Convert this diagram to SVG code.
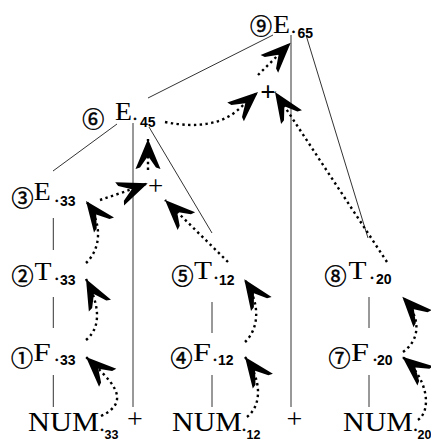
<svg xmlns="http://www.w3.org/2000/svg" width="431" height="441" viewBox="0 0 431 441">
<style>
.ln{stroke:#333;stroke-width:1;fill:none}
.dt{stroke:#000;stroke-width:2.4;fill:none;stroke-dasharray:2.4 3.4;marker-end:url(#ah)}
.circ{font-family:"Noto Sans CJK JP","DejaVu Sans",sans-serif;font-size:22px;text-anchor:middle;dominant-baseline:central;stroke:#000;stroke-width:0.5}
.big{font-family:"Liberation Serif",serif;font-size:26px}
.num{font-family:"Liberation Serif",serif;font-size:27px}
.dot{font-family:"Liberation Serif",serif;font-size:18px;stroke:#000;stroke-width:0.4}
.sub{font-family:"Liberation Sans",sans-serif;font-weight:bold;font-size:14px}
.nsub{font-family:"Liberation Sans",sans-serif;font-weight:bold;font-size:12.5px}
.pl{font-family:"Liberation Serif",serif;font-size:27px;text-anchor:middle}
.bp{font-family:"Liberation Serif",serif;font-size:28px;text-anchor:middle}
</style>
<defs>
<marker id="ah" markerUnits="userSpaceOnUse" markerWidth="40" markerHeight="30" viewBox="-34 -15 40 30" refX="0" refY="0" orient="auto" overflow="visible">
<path d="M0,0 L-30,-12.5 L-28.5,-8 L-17,0 L-28.5,8 L-30,12.5 Z" fill="#000" stroke="none"/>
</marker>
</defs>
<g id="connectors">
<path class="ln" d="M53.3,218 V250 M53.3,297 V328 M53.3,375 V407"/>
<path class="ln" d="M133,123 V407"/>
<path class="ln" d="M212,302 V333 M212,375 V407"/>
<path class="ln" d="M291,35 V407"/>
<path class="ln" d="M369,297 V328 M369,375 V407"/>
<path class="ln" d="M273,35 L148,98"/>
<path class="ln" d="M306,35 L368,238"/>
<path class="ln" d="M117,124 L53,171"/>
<path class="ln" d="M149,127 L212,233"/>
<path class="dt" d="M101,416 C135,400 108,378 86,357"/>
<path class="dt" d="M86,340 C104,325 97,300 86,279"/>
<path class="dt" d="M86,263 C100,250 104,225 86,201"/>
<path class="dt" d="M100,200 C115,195 130,190 147.7,183.3"/>
<path class="dt" d="M228,262 L165,200"/>
<path class="dt" d="M148,170 L148,139"/>
<path class="dt" d="M165,122 Q215,132 240,108 L258,92"/>
<path class="dt" d="M387,262 L275,92"/>
<path class="dt" d="M258,75 L290.7,42.7"/>
<path class="dt" d="M245,342 C258,330 262,305 244.3,279.3"/>
<path class="dt" d="M247,417 C262,405 262,380 245,357"/>
<path class="dt" d="M403,352 C420,340 422,318 402.3,296.7"/>
<path class="dt" d="M418,420 C432,410 428,378 402.3,356.7"/>
</g>
<g id="n9"><text class="circ" x="261" y="24">⑨</text><text><tspan class="big" x="273" y="33" textLength="17" lengthAdjust="spacingAndGlyphs">E</tspan><tspan class="dot" x="291.2" y="33">.</tspan><tspan class="sub" x="297.5" y="37.5">65</tspan></text></g>
<g id="n6"><text class="circ" x="93.3" y="117">⑥</text><text><tspan class="big" x="115" y="120" textLength="17" lengthAdjust="spacingAndGlyphs">E</tspan><tspan class="dot" x="132.7" y="119.5">.</tspan><tspan class="sub" x="140" y="126.5">45</tspan></text></g>
<g id="n3"><text class="circ" x="22.5" y="196">③</text><text><tspan class="big" x="33.7" y="200" textLength="17" lengthAdjust="spacingAndGlyphs">E</tspan><tspan class="dot" x="54.4" y="201.5">.</tspan><tspan class="sub" x="60" y="205.5">33</tspan></text></g>
<g id="n2"><text class="circ" x="22.5" y="274">②</text><text><tspan class="big" x="34.5" y="279.5" textLength="17" lengthAdjust="spacingAndGlyphs">T</tspan><tspan class="dot" x="54.4" y="279.5">.</tspan><tspan class="sub" x="60" y="285">33</tspan></text></g>
<g id="n1"><text class="circ" x="22" y="356">①</text><text><tspan class="big" x="33.2" y="361" textLength="17.5" lengthAdjust="spacingAndGlyphs">F</tspan><tspan class="dot" x="54.4" y="361">.</tspan><tspan class="sub" x="60" y="365">33</tspan></text></g>
<g id="n5"><text class="circ" x="182.5" y="274">⑤</text><text><tspan class="big" x="194" y="279" textLength="18" lengthAdjust="spacingAndGlyphs">T</tspan><tspan class="dot" x="213.7" y="278.5">.</tspan><tspan class="sub" x="219" y="284.5">12</tspan></text></g>
<g id="n4"><text class="circ" x="181.5" y="356">④</text><text><tspan class="big" x="193" y="361" textLength="18" lengthAdjust="spacingAndGlyphs">F</tspan><tspan class="dot" x="212.7" y="361">.</tspan><tspan class="sub" x="218" y="365">12</tspan></text></g>
<g id="n8"><text class="circ" x="335.5" y="274">⑧</text><text><tspan class="big" x="348.5" y="279" textLength="18" lengthAdjust="spacingAndGlyphs">T</tspan><tspan class="dot" x="369.7" y="278.5">.</tspan><tspan class="sub" x="376" y="284">20</tspan></text></g>
<g id="n7"><text class="circ" x="339.5" y="356">⑦</text><text><tspan class="big" x="351" y="361" textLength="18" lengthAdjust="spacingAndGlyphs">F</tspan><tspan class="dot" x="372.7" y="361">.</tspan><tspan class="sub" x="377" y="365">20</tspan></text></g>
<g id="plusA"><text class="pl" x="155.5" y="195">+</text></g>
<g id="plusB"><text class="pl" x="268" y="100.5" font-weight="bold">+</text></g>
<g id="num33"><text><tspan class="num" x="28" y="431" textLength="71" lengthAdjust="spacingAndGlyphs">NUM</tspan><tspan class="dot" x="99.7" y="431">.</tspan><tspan class="nsub" x="104.5" y="439">33</tspan></text></g>
<g id="plus1"><text class="bp" x="135" y="428">+</text></g>
<g id="num12"><text><tspan class="num" x="172" y="431" textLength="70" lengthAdjust="spacingAndGlyphs">NUM</tspan><tspan class="dot" x="241.7" y="431">.</tspan><tspan class="nsub" x="246.5" y="439">12</tspan></text></g>
<g id="plus2"><text class="bp" x="294.5" y="428">+</text></g>
<g id="num20"><text><tspan class="num" x="343" y="431" textLength="70" lengthAdjust="spacingAndGlyphs">NUM</tspan><tspan class="dot" x="413.2" y="431">.</tspan><tspan class="nsub" x="417.6" y="439">20</tspan></text></g>
</svg>
